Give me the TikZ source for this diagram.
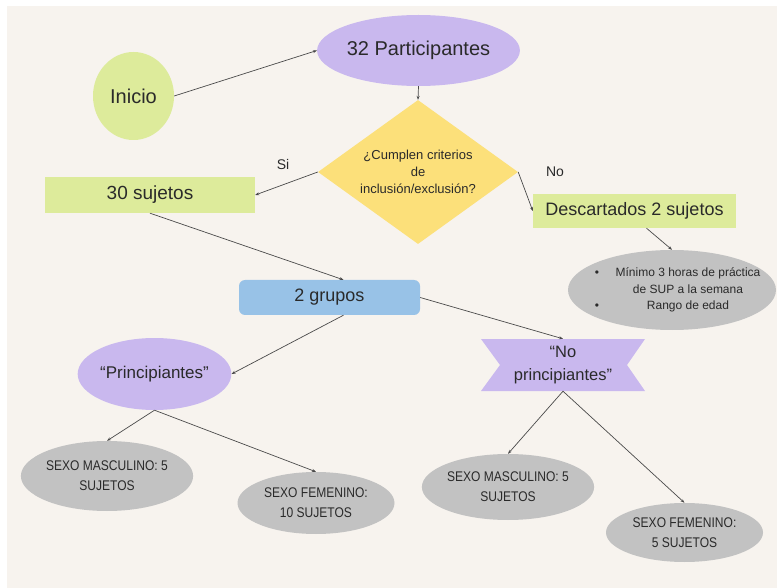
\documentclass[tikz,border=0pt]{standalone}
\usepackage{fontspec}
\setmainfont{Liberation Sans}
\newfontfamily\narrowfont[FakeStretch=0.86]{Liberation Sans}
\usetikzlibrary{shapes.geometric,arrows.meta}
\definecolor{bgc}{HTML}{F7F3EE}
\definecolor{lav}{HTML}{C9B8EE}
\definecolor{grn}{HTML}{DDEB9B}
\definecolor{ylw}{HTML}{FCE07A}
\definecolor{blu}{HTML}{98C2E7}
\definecolor{gry}{HTML}{C2C2C2}
\definecolor{txt}{HTML}{2A2A2A}
\definecolor{lin}{HTML}{4A4A4A}
\begin{document}
\begin{tikzpicture}[x=1pt,y=-1pt,
  every node/.style={inner sep=0pt, text=txt},
  oval/.style={ellipse, inner sep=0pt},
  sexo/.style={oval, fill=gry, align=center, font=\narrowfont\fontsize{14}{20}\selectfont},
  conn/.style={draw=lin, line width=0.7pt, -{Stealth[length=4pt,width=3pt]}}]
\fill[white] (0,0) rectangle (777,588);
\fill[bgc] (7,6) rectangle (777,588);
\useasboundingbox (0,0) rectangle (777,588);

\node[oval, fill=grn, minimum width=81, minimum height=88, font=\fontsize{20}{24}\selectfont] (ini) at (133.5,96) {Inicio};
\node[oval, fill=lav, minimum width=201, minimum height=71, font=\fontsize{20}{24}\selectfont] (par) at (418.5,50.5) {32 Participantes};
\node[diamond, fill=ylw, aspect=1.39, minimum width=200, minimum height=144, align=center, font=\fontsize{13}{17}\selectfont] (dia) at (418,172) {¿Cumplen criterios\\de\\inclusión/exclusión?};
\node[font=\fontsize{14}{16}\selectfont] (si) at (283,164) {Si};
\node[font=\fontsize{14}{16}\selectfont] (no) at (555,172) {No};

\node[fill=grn, minimum width=210, minimum height=36, font=\fontsize{19}{23}\selectfont] (s30) at (150,195) {30 sujetos};
\node[fill=grn, minimum width=203, minimum height=34, font=\fontsize{18}{22}\selectfont] (des) at (634.5,211) {Descartados 2 sujetos};

\node[oval, fill=gry, minimum width=208, minimum height=80] (bul) at (672,290) {};
\node[align=center, font=\fontsize{12}{16.5}\selectfont] (bultxt) at (688,290) {Mínimo 3 horas de práctica\\de SUP a la semana\\Rango de edad};
\node[font=\fontsize{12}{14}\selectfont] (b1) at (597,274) {•};
\node[font=\fontsize{12}{14}\selectfont] (b2) at (597,307) {•};

\node[fill=blu, rounded corners=6pt, minimum width=181, minimum height=35, font=\fontsize{18}{22}\selectfont] (grp) at (329.5,297.5) {2 grupos};
\node[oval, fill=lav, minimum width=145, minimum height=72, font=\fontsize{17}{21}\selectfont] (pri) at (154.5,374) {“Principiantes”};
\fill[lav] (481,339) -- (645,339) -- (627,365) -- (645,391) -- (481,391) -- (500,365) -- cycle;
\node[minimum width=164, minimum height=52, align=center, font=\fontsize{16.5}{23}\selectfont] (npr) at (563,365) {“No\\principiantes”};

\node[sexo, minimum width=166, minimum height=70] (m1) at (107,476) {SEXO MASCULINO: 5\\SUJETOS};
\node[sexo, minimum width=157, minimum height=62] (f1) at (316,503) {SEXO FEMENINO:\\10 SUJETOS};
\node[sexo, minimum width=158, minimum height=66] (m2) at (508,487) {SEXO MASCULINO: 5\\SUJETOS};
\node[sexo, minimum width=157, minimum height=59] (f2) at (684.5,532.5) {SEXO FEMENINO:\\5 SUJETOS};

\draw[conn] (ini.east) -- (par.west);
\draw[conn] (par.south) -- (dia.north);
\draw[conn] (dia.west) -- (s30.east);
\draw[conn] (dia.east) -- (des.west);
\draw[conn] ([xshift=12pt]des.south) -- (bul.north);
\draw[conn] (s30.south) -- ([xshift=14pt]grp.north);
\draw[conn] ([xshift=14pt]grp.south) -- (pri.east);
\draw[conn] (grp.east) -- (npr.north);
\draw[conn] (pri.south) -- (m1.north);
\draw[conn] (pri.south) -- (f1.north);
\draw[conn] (npr.south) -- (m2.north);
\draw[conn] (npr.south) -- (f2.north);
\end{tikzpicture}
\end{document}
